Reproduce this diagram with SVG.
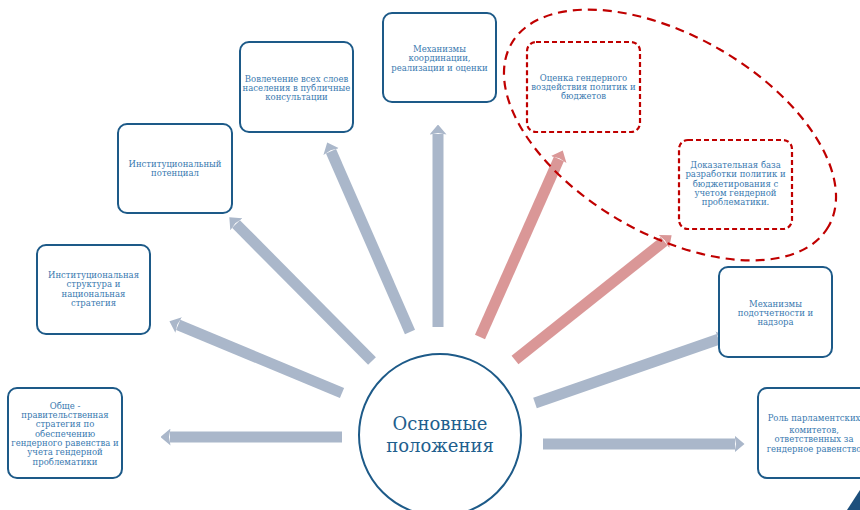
<svg xmlns="http://www.w3.org/2000/svg" width="860" height="510" viewBox="0 0 860 510">
<style>
.box{fill:#ffffff;stroke:#1d5a88;stroke-width:2}
.dbox{fill:#ffffff;stroke:#c00000;stroke-width:2.2;stroke-dasharray:5 3}
.t{font-family:"DejaVu Serif","Liberation Serif",serif;font-size:8.5px;fill:#3a7ab0;text-anchor:middle}
.ct{font-family:"DejaVu Serif","Liberation Serif",serif;font-size:18px;fill:#1f5f8e;text-anchor:middle}
.ag{stroke:#aab7ca;stroke-width:11;fill:none;marker-end:url(#hg)}
.ar{stroke:#da9797;stroke-width:11;fill:none;marker-end:url(#hr)}
</style>
<defs>
<marker id="hg" markerUnits="userSpaceOnUse" viewBox="0 0 10 17" markerWidth="10" markerHeight="17" refX="0.5" refY="8.5" orient="auto">
<path d="M0,0 L10,8.5 L0,17 L1.5,8.5 z" fill="#aab7ca"/>
</marker>
<marker id="hr" markerUnits="userSpaceOnUse" viewBox="0 0 10 17" markerWidth="10" markerHeight="17" refX="0.5" refY="8.5" orient="auto">
<path d="M0,0 L10,8.5 L0,17 L1.5,8.5 z" fill="#da9797"/>
</marker>
</defs>
<rect width="860" height="510" fill="#ffffff"/>
<g id="connectors">
<line class="ag" x1="342" y1="437" x2="170" y2="437"/>
<line class="ag" x1="342" y1="393" x2="178.2" y2="324.8"/>
<line class="ag" x1="372" y1="361" x2="236" y2="224"/>
<line class="ag" x1="410" y1="332" x2="331" y2="151.2"/>
<line class="ag" x1="438" y1="327" x2="438" y2="134"/>
<line class="ar" x1="480" y1="337" x2="558.9" y2="159.1"/>
<line class="ar" x1="515" y1="360" x2="664.2" y2="241.2"/>
<line class="ag" x1="535" y1="403" x2="718.5" y2="339.3"/>
<line class="ag" x1="543" y1="444" x2="735" y2="444"/>
</g>
<g id="group-outline">
<ellipse cx="670" cy="135" rx="183" ry="99" transform="rotate(30 670 135)" fill="none" stroke="#c00000" stroke-width="2.2" stroke-dasharray="9 6"/>
</g>
<g id="n1">
<rect class="box" x="8" y="388" width="114" height="90" rx="9"/>
<text class="t"><tspan x="65" y="408.5">Обще -</tspan><tspan x="65" y="417.8">правительственная</tspan><tspan x="65" y="427.2">стратегия по</tspan><tspan x="65" y="436.5">обеспечению</tspan><tspan x="65" y="445.8">гендерного равенства и</tspan><tspan x="65" y="455.2">учета гендерной</tspan><tspan x="65" y="464.5">проблематики</tspan></text>
</g>
<g id="n2">
<rect class="box" x="37" y="245" width="113" height="89" rx="9"/>
<text class="t"><tspan x="93.5" y="278">Институциональная</tspan><tspan x="93.5" y="287.3">структура и</tspan><tspan x="93.5" y="296.6">национальная</tspan><tspan x="93.5" y="306">стратегия</tspan></text>
</g>
<g id="n3">
<rect class="box" x="118" y="124" width="114" height="89" rx="9"/>
<text class="t"><tspan x="175" y="166.5">Институциональный</tspan><tspan x="175" y="176">потенциал</tspan></text>
</g>
<g id="n4">
<rect class="box" x="240" y="42" width="113" height="90" rx="9"/>
<text class="t"><tspan x="296.5" y="81.5">Вовлечение всех слоев</tspan><tspan x="296.5" y="91">населения в публичные</tspan><tspan x="296.5" y="100.3">консультации</tspan></text>
</g>
<g id="n5">
<rect class="box" x="383" y="13" width="113" height="89" rx="9"/>
<text class="t"><tspan x="439.5" y="51.5">Механизмы</tspan><tspan x="439.5" y="61">координации,</tspan><tspan x="439.5" y="70.5">реализации и оценки</tspan></text>
</g>
<g id="n6">
<rect class="dbox" x="527" y="42" width="113" height="90" rx="9"/>
<text class="t"><tspan x="583.5" y="81">Оценка гендерного</tspan><tspan x="583.5" y="90">воздействия политик и</tspan><tspan x="583.5" y="99.3">бюджетов</tspan></text>
</g>
<g id="n7">
<rect class="dbox" x="679" y="140" width="113" height="89" rx="9"/>
<text class="t"><tspan x="735.5" y="168">Доказательная база</tspan><tspan x="735.5" y="177.3">разработки политик и</tspan><tspan x="735.5" y="186.6">бюджетирования с</tspan><tspan x="735.5" y="196">учетом гендерной</tspan><tspan x="735.5" y="205.3">проблематики.</tspan></text>
</g>
<g id="n8">
<rect class="box" x="719" y="267" width="113" height="90" rx="9"/>
<text class="t"><tspan x="775.5" y="306.5">Механизмы</tspan><tspan x="775.5" y="316">подотчетности и</tspan><tspan x="775.5" y="325">надзора</tspan></text>
</g>
<g id="n9">
<rect class="box" x="758" y="388" width="113" height="90" rx="9"/>
<text class="t"><tspan x="814" y="421">Роль парламентских</tspan><tspan x="814" y="432.5">комитетов,</tspan><tspan x="814" y="442">ответственных за</tspan><tspan x="814" y="451.5">гендерное равенство</tspan></text>
</g>
<g id="center">
<circle cx="440" cy="435" r="81" fill="#ffffff" stroke="#1d5a88" stroke-width="2"/>
<text class="ct"><tspan x="440" y="429.5">Основные</tspan><tspan x="440" y="451.5">положения</tspan></text>
</g>
<polygon points="847,510 860,490 860,510" fill="#1d4f7c"/>
</svg>
